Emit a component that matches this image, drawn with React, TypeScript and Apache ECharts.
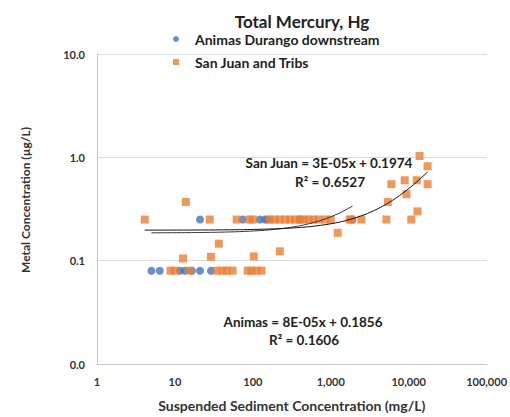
import React, { useEffect, useRef } from "react";
import * as echarts from "echarts";

const title = "Total Mercury, Hg";
const seriesNames = ["Animas Durango downstream", "San Juan and Tribs"];
const xAxisName = "Suspended Sediment Concentration (mg/L)";
const yAxisName = "Metal Concentration (µg/L)";

// Animas Durango downstream: suspended sediment (mg/L) and Hg (µg/L)
const animasX = [5.0, 6.4, 11.6, 13.4, 16.5, 21, 29, 21, 74, 123, 143, 155, 400, 1900];
const animasY = [0.08, 0.08, 0.08, 0.08, 0.08, 0.08, 0.08, 0.25, 0.25, 0.25, 0.25, 0.25, 0.25, 0.25];

// San Juan and Tribs
const sanJuanX = [
  4.1, 13.8, 28, 62, 36.6, 12.7, 29, 103, 222, 1230,
  8.8, 10, 15.6, 34.5, 41, 46, 55, 86, 96, 111, 129,
  90, 100, 165, 190, 220, 260, 300, 350, 400, 450, 520, 600, 700, 850, 1000, 1750, 1840, 2470, 5180, 10800,
  5400, 9370, 13000, 6000, 8900, 12700, 17500, 13800, 17500,
];
const sanJuanY = [
  0.25, 0.37, 0.25, 0.25, 0.146, 0.105, 0.109, 0.11, 0.123, 0.186,
  0.08, 0.08, 0.08, 0.08, 0.08, 0.08, 0.08, 0.08, 0.08, 0.08, 0.08,
  0.25, 0.25, 0.25, 0.25, 0.25, 0.25, 0.25, 0.25, 0.25, 0.25, 0.25, 0.25, 0.25, 0.25, 0.25, 0.25, 0.25, 0.25, 0.25, 0.25,
  0.37, 0.44, 0.3, 0.55, 0.6, 0.6, 0.55, 1.03, 0.82,
];

// Linear trendlines as reported
const sanJuanFit = { slope: 3e-5, intercept: 0.1974, label: "San Juan = 3E-05x + 0.1974", r2: "R² = 0.6527" };
const animasFit = { slope: 8e-5, intercept: 0.1856, label: "Animas = 8E-05x + 0.1856", r2: "R² = 0.1606" };

const xTicks = [1, 10, 100, 1000, 10000, 100000];
const yTicks = [0.01, 0.1, 1, 10];

const FONT = "Lato, 'Open Sans', sans-serif";

function fitLine(xs: number[], fit: { slope: number; intercept: number }) {
  const lo = Math.log10(Math.min(...xs));
  const hi = Math.log10(Math.max(...xs));
  const pts: number[][] = [];
  const n = 80;
  for (let i = 0; i <= n; i++) {
    const x = Math.pow(10, lo + ((hi - lo) * i) / n);
    pts.push([x, fit.slope * x + fit.intercept]);
  }
  return pts;
}

export default function App() {
  const ref = useRef<HTMLDivElement>(null);
  useEffect(() => {
    if (!ref.current) return;
    const chart = echarts.init(ref.current, undefined, { renderer: "svg" });
    const animasData = animasX.map((x, i) => [x, animasY[i]]);
    const sanJuanData = sanJuanX.map((x, i) => [x, sanJuanY[i]]);
    const eqFont = `bold 13.5px ${FONT}`;
    chart.setOption({
      animation: false,
      backgroundColor: "#ffffff",
      title: {
        text: title,
        left: 297,
        textAlign: "center",
        top: 8,
        textStyle: { fontFamily: FONT, fontSize: 17, fontWeight: "bold", color: "#222" },
      },
      legend: {
        data: [
          { name: seriesNames[0], icon: "circle" },
          { name: seriesNames[1], icon: "rect" },
        ],
        orient: "vertical",
        left: 168,
        top: 27,
        itemWidth: 6,
        itemHeight: 6,
        itemGap: 9,
        textStyle: { fontFamily: FONT, fontSize: 14, fontWeight: "bold", color: "#222", padding: [0, 0, 0, 11] },
      },
      grid: { left: 97, right: 23, top: 54, bottom: 51 },
      xAxis: {
        type: "log",
        logBase: 10,
        min: xTicks[0],
        max: xTicks[xTicks.length - 1],
        name: xAxisName,
        nameLocation: "middle",
        nameGap: 34,
        nameTextStyle: { fontFamily: FONT, fontSize: 14, fontWeight: "bold", color: "#333" },
        axisLine: { show: true, lineStyle: { color: "#c8c8c8" } },
        axisTick: { show: false },
        splitLine: { show: false },
        axisLabel: {
          fontFamily: FONT,
          fontSize: 11,
          fontWeight: "bold",
          color: "#333",
          margin: 12,
          formatter: (v: number) => Math.round(v).toLocaleString("en-US"),
        },
      },
      yAxis: {
        type: "log",
        logBase: 10,
        min: yTicks[0],
        max: yTicks[yTicks.length - 1],
        axisLine: { show: true, lineStyle: { color: "#c8c8c8" } },
        axisTick: { show: false },
        splitLine: { show: true, lineStyle: { color: "#dadada" } },
        axisLabel: {
          fontFamily: FONT,
          fontSize: 11,
          fontWeight: "bold",
          color: "#333",
          margin: 12,
          formatter: (v: number) => v.toFixed(1),
        },
      },
      series: [
        {
          name: seriesNames[0],
          type: "scatter",
          symbol: "circle",
          symbolSize: 8,
          itemStyle: { color: "#4472C4" },
          data: animasData,
          z: 3,
        },
        {
          name: seriesNames[1],
          type: "scatter",
          symbol: "rect",
          symbolSize: 8,
          itemStyle: { color: "#ED7D31" },
          data: sanJuanData,
          z: 4,
        },
        {
          name: "Animas trend",
          type: "line",
          showSymbol: false,
          silent: true,
          lineStyle: { color: "#333", width: 1 },
          data: fitLine(animasX, animasFit),
          z: 5,
        },
        {
          name: "San Juan trend",
          type: "line",
          showSymbol: false,
          silent: true,
          lineStyle: { color: "#111", width: 1 },
          data: fitLine(sanJuanX, sanJuanFit),
          z: 5,
        },
      ],
      graphic: [
        {
          type: "text",
          x: 25,
          y: 200,
          rotation: Math.PI / 2,
          style: { text: yAxisName, align: "center", verticalAlign: "middle", font: `bold 12px ${FONT}`, fill: "#333" },
        },
        {
          type: "text",
          x: 329,
          y: 163,
          style: { text: sanJuanFit.label, align: "center", verticalAlign: "middle", font: eqFont, fill: "#222" },
        },
        {
          type: "text",
          x: 330,
          y: 182,
          style: { text: sanJuanFit.r2, align: "center", verticalAlign: "middle", font: eqFont, fill: "#222" },
        },
        {
          type: "text",
          x: 303,
          y: 322,
          style: { text: animasFit.label, align: "center", verticalAlign: "middle", font: eqFont, fill: "#222" },
        },
        {
          type: "text",
          x: 304,
          y: 340,
          style: { text: animasFit.r2, align: "center", verticalAlign: "middle", font: eqFont, fill: "#222" },
        },
      ],
    });
    return () => chart.dispose();
  }, []);
  return <div ref={ref} style={{ position: "fixed", left: 0, top: 0, width: 510, height: 417 }} />;
}
